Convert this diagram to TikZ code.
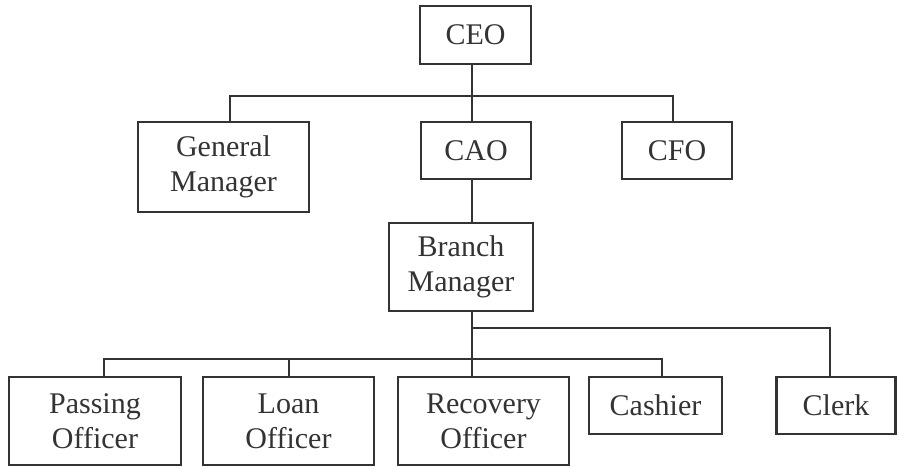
\documentclass[tikz,border=0pt]{standalone}
\usepackage{fontspec}
\setmainfont{Liberation Serif}
\usetikzlibrary{calc}
\definecolor{inkgray}{HTML}{333333}
\tikzset{
  post/.style={draw=inkgray, line width=1.3pt, text=inkgray, align=center,
    inner sep=0pt, font=\fontsize{15}{17.5}\selectfont},
  wire/.style={draw=inkgray, line width=1.3pt},
}
\begin{document}
\begin{tikzpicture}[x=0.5pt,y=-0.5pt]
    \useasboundingbox (0,0) rectangle (897,468);
    % Top level
    \node[post, minimum width=55.5pt, minimum height=29pt] (ceo) at (475.5,35) {CEO};
    % Second level
    \node[post, minimum width=85.5pt, minimum height=45pt] (gm) at (223.5,167) {General\\Manager};
    \node[post, minimum width=55pt, minimum height=28.5pt] (cao) at (476,150.5) {CAO};
    \node[post, minimum width=55pt, minimum height=28.5pt] (cfo) at (677,150.5) {CFO};
    % Branch level
    \node[post, minimum width=72pt, minimum height=44pt] (bm) at (461,267) {Branch\\Manager};
    % Staff under the branch manager
    \node[post, minimum width=86pt, minimum height=44pt] (pass) at (95,421) {Passing\\Officer};
    \node[post, minimum width=85.5pt, minimum height=44pt] (loan) at (288.5,421) {Loan\\Officer};
    \node[post, minimum width=85.5pt, minimum height=44pt] (rec) at (483.5,421) {Recovery\\Officer};
    \node[post, minimum width=66.5pt, minimum height=28.5pt] (cash) at (655.5,405.5) {Cashier};
    \node[post, minimum width=59.75pt, minimum height=28.5pt] (clerk) at (836,405.5) {Clerk};
    % Trunk and bus lines
    \coordinate (trunk) at (472,0);
    \coordinate (topbus) at (0,96);
    \coordinate (upbus) at (0,328);
    \coordinate (lowbus) at (0,359);
    \draw[wire] (ceo.south -| trunk) -- (cao.north -| trunk);
    \draw[wire] ($(gm.north)+(6.5,0)$) |- ($(topbus -| cfo)+(-4,0)$) -- ($(cfo.north)+(-4,0)$);
    \draw[wire] (cao.south -| trunk) -- (bm.north -| trunk);
    \draw[wire] (bm.south -| trunk) -- (rec.north -| trunk);
    \draw[wire] (upbus -| trunk) -| ($(clerk.north)+(-6,0)$);
    \draw[wire] ($(pass.north)+(9,0)$) |- ($(lowbus -| cash)+(6.5,0)$) -- ($(cash.north)+(6.5,0)$);
    \draw[wire] ($(loan.north)+(0.5,0)$) -- ($(lowbus -| loan)+(0.5,0)$);
\end{tikzpicture}
\end{document}
